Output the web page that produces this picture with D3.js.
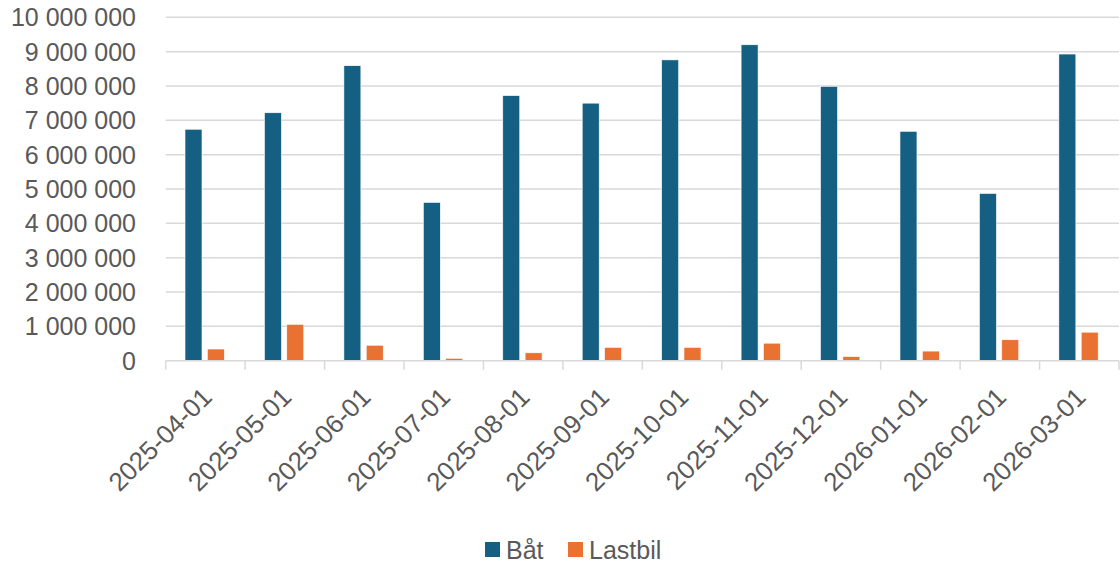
<!DOCTYPE html>
<html>
<head>
<meta charset="utf-8">
<script src="https://cdn.jsdelivr.net/npm/d3@7"></script>
<style>
  body { margin: 0; background: #fff; }
  text { font-family: "Liberation Sans", Arial, sans-serif; fill: #595959; }
</style>
</head>
<body>
<svg width="1120" height="565"></svg>
<script>
// months on the x axis
const months = ["2025-04-01", "2025-05-01", "2025-06-01", "2025-07-01", "2025-08-01", "2025-09-01",
                "2025-10-01", "2025-11-01", "2025-12-01", "2026-01-01", "2026-02-01", "2026-03-01"];
const seriesNames = ["Båt", "Lastbil"];
const batValues = [6740000, 7220000, 8590000, 4610000, 7720000, 7500000, 8760000, 9200000, 7990000, 6680000, 4870000, 8930000];
const lastbilValues = [340000, 1060000, 450000, 70000, 230000, 390000, 390000, 510000, 120000, 280000, 610000, 830000];
const yTicks = [0, 1000000, 2000000, 3000000, 4000000, 5000000, 6000000, 7000000, 8000000, 9000000, 10000000];

const colors = { "Båt": "#156082", "Lastbil": "#E97132" };

let svg = d3.select("svg");
const plotLeft = 165.7, plotRight = 1119, plotTop = 17.3, plotBottom = 360.7;

let x0 = d3.scaleBand().domain(months).range([plotLeft, plotRight]).padding(0);
let x1 = d3.scaleBand().domain(seriesNames)
    .range([x0.bandwidth() * 0.243, x0.bandwidth() * 0.738])
    .paddingInner(0.24);
let y = d3.scaleLinear().domain([0, 10000000]).range([plotBottom, plotTop]);

// "10 000 000" style
const fmt = v => d3.format(",")(v).replace(/,/g, " ");

// gridlines
svg.append("g")
    .selectAll("line")
    .data(yTicks.slice(1))
    .enter()
    .append("line")
    .attr("x1", plotLeft).attr("x2", plotRight)
    .attr("y1", d => y(d)).attr("y2", d => y(d))
    .attr("stroke", "#d9d9d9")
    .attr("stroke-width", 1.5);

// y labels
svg.append("g")
    .selectAll("text")
    .data(yTicks)
    .enter()
    .append("text")
    .attr("x", 136)
    .attr("y", d => y(d) + 9)
    .attr("text-anchor", "end")
    .attr("font-size", "25px")
    .attr("textLength", d => null)
    .text(d => fmt(d));

// bars
let rows = months.map((m, i) => ({ month: m, values: [
    { name: "Båt", value: batValues[i] },
    { name: "Lastbil", value: lastbilValues[i] }
]}));

svg.append("g")
    .selectAll("g")
    .data(rows)
    .enter()
    .append("g")
    .attr("transform", d => `translate(${x0(d.month)},0)`)
    .selectAll("rect")
    .data(d => d.values)
    .enter()
    .append("rect")
    .attr("x", d => x1(d.name))
    .attr("width", x1.bandwidth())
    .attr("y", d => y(d.value))
    .attr("height", d => y(0) - y(d.value))
    .attr("fill", d => colors[d.name])
    .attr("stroke", "#fff")
    .attr("stroke-width", 0.6);

// x axis
let xAxis = svg.append("g")
    .attr("transform", `translate(0, ${plotBottom})`);
xAxis.append("line")
    .attr("x1", plotLeft).attr("x2", plotRight)
    .attr("stroke", "#d9d9d9").attr("stroke-width", 1.5);
xAxis.selectAll("line.tick")
    .data(months.concat(["end"]))
    .enter()
    .append("line")
    .attr("class", "tick")
    .attr("x1", (d, i) => i < months.length ? x0(d) : plotRight)
    .attr("x2", (d, i) => i < months.length ? x0(d) : plotRight)
    .attr("y1", 0).attr("y2", 9)
    .attr("stroke", "#d9d9d9").attr("stroke-width", 1.5);

xAxis.selectAll("text")
    .data(months)
    .enter()
    .append("text")
    .attr("text-anchor", "end")
    .attr("font-size", "26px")
    .attr("transform", d => `translate(${x0(d) + x0.bandwidth() / 2 + 8}, 38) rotate(-45)`)
    .text(d => d);

// legend
let legend = svg.append("g").attr("transform", "translate(0, 550)");
const legendX = [485, 568];
seriesNames.forEach((s, i) => {
    legend.append("rect")
        .attr("x", legendX[i]).attr("y", -8)
        .attr("width", 15).attr("height", 15)
        .attr("fill", colors[s]);
    legend.append("text")
        .attr("x", legendX[i] + 21).attr("y", 9)
        .attr("font-size", "25px")
        .text(s);
});
</script>
</body>
</html>
